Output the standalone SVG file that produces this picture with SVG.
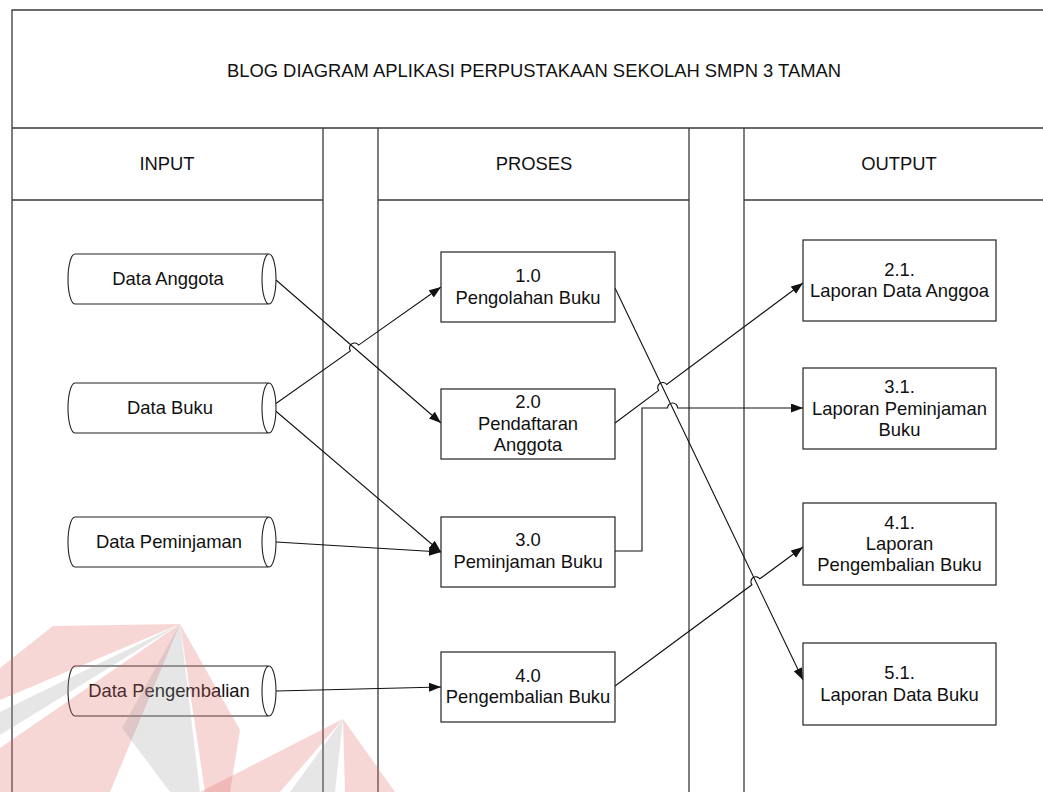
<svg xmlns="http://www.w3.org/2000/svg" width="1043" height="792" viewBox="0 0 1043 792">
<style>
.frame{fill:none;stroke:#3a3a3a;stroke-width:1.3}
.box{fill:#fff;stroke:#222;stroke-width:1.2}
.cyl{fill:#fff;stroke:#222;stroke-width:1.1}
.conn{fill:none;stroke:#111;stroke-width:1.1}
text{font-family:"Liberation Sans",Arial,sans-serif;font-size:18.4px;fill:#111;text-anchor:middle}
.wp{fill:#e46a6a;opacity:0.28}
.wg{fill:#9a9a9a;opacity:0.25}
</style>
<defs>
<marker id="arr" markerWidth="13" markerHeight="10" refX="12" refY="4.5" orient="auto" markerUnits="userSpaceOnUse">
<path d="M0,0 L12,4.5 L0,9 Z" fill="#111"/>
</marker>
</defs>
<rect width="1043" height="792" fill="#fff"/>
<g id="frame">
<path class="frame" d="M12,792 V10 H1043 M12,128 H1043 M12,200 H323 M378,200 H689 M744,200 H1043 M323,128 V792 M378,128 V792 M689,128 V792 M744,128 V792"/>
<text x="534" y="77">BLOG DIAGRAM APLIKASI PERPUSTAKAAN SEKOLAH SMPN 3 TAMAN</text>
<text x="167" y="170">INPUT</text>
<text x="534" y="170">PROSES</text>
<text x="899" y="170">OUTPUT</text>
</g>
<g id="connectors">
<path class="conn" d="M276,280 L441,423" marker-end="url(#arr)"/>
<path class="conn" d="M271,407 L350.4,350.9 A5,5 0 0 1 358.6,345.1 L441,287" marker-end="url(#arr)"/>
<path class="conn" d="M271,407 L441,552" marker-end="url(#arr)"/>
<path class="conn" d="M276,542 L441,552" marker-end="url(#arr)"/>
<path class="conn" d="M276,691 L441,687" marker-end="url(#arr)"/>
<path class="conn" d="M615,288 L803,680" marker-end="url(#arr)"/>
<path class="conn" d="M615,423 L658.7,390.5 A5,5 0 0 1 666.7,384.5 L803,283" marker-end="url(#arr)"/>
<path class="conn" d="M615,551 H642 V408 H667.6 A5,5 0 0 1 677.6,408 H803" marker-end="url(#arr)"/>
<path class="conn" d="M615,686 L751.9,584.8 A5,5 0 0 1 759.9,578.8 L803,547" marker-end="url(#arr)"/>
</g>
<g id="in-anggota">
<path class="cyl" d="M75,254 H269 A7,25 0 0 1 269,304 H75 A7,25 0 0 1 75,254 Z M269,254 A7,25 0 0 0 269,304"/>
<text x="168" y="285">Data Anggota</text>
</g>
<g id="in-buku">
<path class="cyl" d="M75,383 H269 A7,25 0 0 1 269,433 H75 A7,25 0 0 1 75,383 Z M269,383 A7,25 0 0 0 269,433"/>
<text x="170" y="414">Data Buku</text>
</g>
<g id="in-peminjaman">
<path class="cyl" d="M75,517 H269 A7,25 0 0 1 269,567 H75 A7,25 0 0 1 75,517 Z M269,517 A7,25 0 0 0 269,567"/>
<text x="169" y="548">Data Peminjaman</text>
</g>
<g id="in-pengembalian">
<path class="cyl" d="M75,666 H269 A7,25 0 0 1 269,716 H75 A7,25 0 0 1 75,666 Z M269,666 A7,25 0 0 0 269,716"/>
<text x="169" y="697">Data Pengembalian</text>
</g>
<g id="p1">
<rect class="box" x="441" y="252" width="174" height="70"/>
<text x="528" y="282">1.0</text>
<text x="528" y="303.5">Pengolahan Buku</text>
</g>
<g id="p2">
<rect class="box" x="441" y="389" width="174" height="70"/>
<text x="528" y="408">2.0</text>
<text x="528" y="429.5">Pendaftaran</text>
<text x="528" y="451">Anggota</text>
</g>
<g id="p3">
<rect class="box" x="441" y="517" width="174" height="70"/>
<text x="528" y="546">3.0</text>
<text x="528" y="568">Peminjaman Buku</text>
</g>
<g id="p4">
<rect class="box" x="441" y="652" width="174" height="70"/>
<text x="528" y="682">4.0</text>
<text x="528" y="702.5">Pengembalian Buku</text>
</g>
<g id="o21">
<rect class="box" x="803" y="240" width="193" height="81"/>
<text x="899.5" y="275.5">2.1.</text>
<text x="899.5" y="297">Laporan Data Anggoa</text>
</g>
<g id="o31">
<rect class="box" x="803" y="368" width="193" height="81"/>
<text x="899.5" y="392.5">3.1.</text>
<text x="899.5" y="414.5">Laporan Peminjaman</text>
<text x="899.5" y="435.5">Buku</text>
</g>
<g id="o41">
<rect class="box" x="803" y="503" width="193" height="82"/>
<text x="899.5" y="528.5">4.1.</text>
<text x="899.5" y="549.5">Laporan</text>
<text x="899.5" y="571">Pengembalian Buku</text>
</g>
<g id="o51">
<rect class="box" x="803" y="643" width="193" height="82"/>
<text x="899.5" y="679">5.1.</text>
<text x="899.5" y="700.5">Laporan Data Buku</text>
</g>
<g id="watermark">
<polygon class="wp" points="53,626 180,624 0,700 0,668"/>
<polygon class="wg" points="180,624 0,735 0,712"/>
<polygon class="wp" points="180,624 0,748 0,792 110,792"/>
<polygon class="wg" points="180,624 122,728 170,792 200,792"/>
<polygon class="wp" points="180,624 240,730 230,792 205,792"/>
<polygon class="wp" points="343,719 200,792 280,792"/>
<polygon class="wg" points="343,719 290,792 335,792"/>
<polygon class="wp" points="343,719 345,792 395,792"/>
</g>
</svg>
